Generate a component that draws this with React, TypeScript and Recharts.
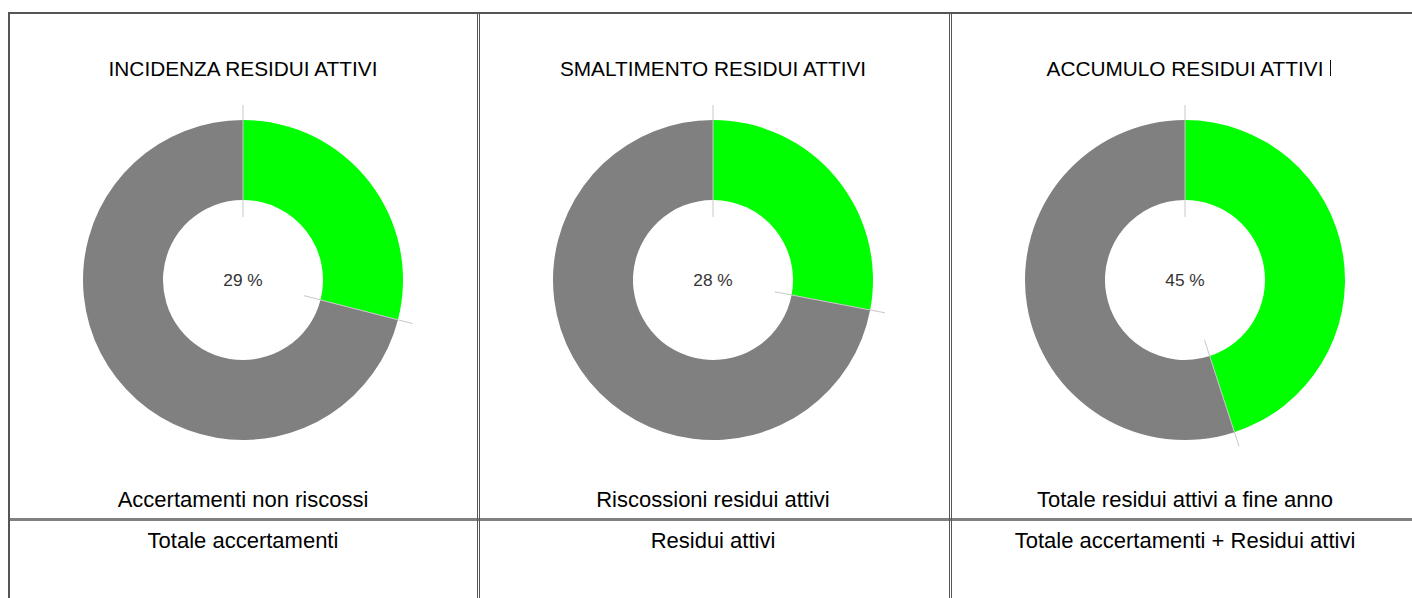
import { PieChart, Pie, Cell, Label } from 'recharts';

const titles = ['INCIDENZA RESIDUI ATTIVI', 'SMALTIMENTO RESIDUI ATTIVI', 'ACCUMULO RESIDUI ATTIVI'];
const percentages = [29, 28, 45];
const numeratorLabels = ['Accertamenti non riscossi', 'Riscossioni residui attivi', 'Totale residui attivi a fine anno'];
const denominatorLabels = ['Totale accertamenti', 'Residui attivi', 'Totale accertamenti + Residui attivi'];
const sliceColors = ['#00ff00', '#808080'];

const centers = [243, 713, 1185];
const pieCy = 280;
const font = '"Liberation Sans", Arial, sans-serif';

// thin grey marks on the slice edges
const renderTick = (props: any) => {
    const { cx, cy, startAngle } = props;
    const rad = (-startAngle * Math.PI) / 180;
    const r1 = 63;
    const r2 = 175;
    return (
        <line
            x1={cx + r1 * Math.cos(rad)}
            y1={cy + r1 * Math.sin(rad)}
            x2={cx + r2 * Math.cos(rad)}
            y2={cy + r2 * Math.sin(rad)}
            stroke="#c8c8c8"
            strokeWidth={1}
        />
    );
};

function Donut({ value }: { value: number }) {
    const data = [
        { name: 'quota', value },
        { name: 'resto', value: 100 - value },
    ];
    return (
        <PieChart width={400} height={400} margin={{ top: 0, right: 0, bottom: 0, left: 0 }}>
            <Pie
                data={data}
                dataKey="value"
                cx={200}
                cy={200}
                innerRadius={80}
                outerRadius={160}
                startAngle={90}
                endAngle={-270}
                stroke="none"
                label={renderTick}
                labelLine={false}
                isAnimationActive={false}
            >
                {data.map((entry, i) => (
                    <Cell key={`cell-${i}`} fill={sliceColors[i]} stroke="none" />
                ))}
                <Label
                    position="center"
                    value={`${value} %`}
                    fill="#333333"
                    fontSize={17.3}
                    fontFamily={font}
                />
            </Pie>
        </PieChart>
    );
}

const textStyle = (cx: number, top: number, size: number): React.CSSProperties => ({
    position: 'absolute',
    left: cx - 230,
    width: 460,
    top,
    textAlign: 'center',
    fontFamily: font,
    fontSize: size,
    lineHeight: '24px',
    color: '#000',
    whiteSpace: 'nowrap',
});

export default function App() {
    return (
        <div
            style={{
                position: 'absolute',
                left: 0,
                top: 0,
                width: 1412,
                height: 598,
                overflow: 'hidden',
                background: '#fff',
            }}
        >
            {/* table lines */}
            <div style={{ position: 'absolute', left: 8, top: 12, width: 1404, height: 2, background: '#555' }} />
            <div style={{ position: 'absolute', left: 8, top: 12, width: 2, height: 586, background: '#555' }} />
            <div style={{ position: 'absolute', left: 10, top: 518, width: 1402, height: 3, background: '#808080' }} />
            {[477, 479, 949, 951].map((x) => (
                <div key={x} style={{ position: 'absolute', left: x, top: 14, width: 1, height: 584, background: '#555' }} />
            ))}
            <div style={{ position: 'absolute', left: 1330, top: 60, width: 1, height: 16, background: '#111' }} />

            {percentages.map((p, i) => (
                <div key={i}>
                    <div style={textStyle(centers[i], 57, 20.8)}>{titles[i]}</div>
                    <div style={{ position: 'absolute', left: centers[i] - 200, top: pieCy - 200 }}>
                        <Donut value={p} />
                    </div>
                    <div style={textStyle(centers[i], 488, 22)}>{numeratorLabels[i]}</div>
                    <div style={textStyle(centers[i], 529, 22)}>{denominatorLabels[i]}</div>
                </div>
            ))}
        </div>
    );
}
